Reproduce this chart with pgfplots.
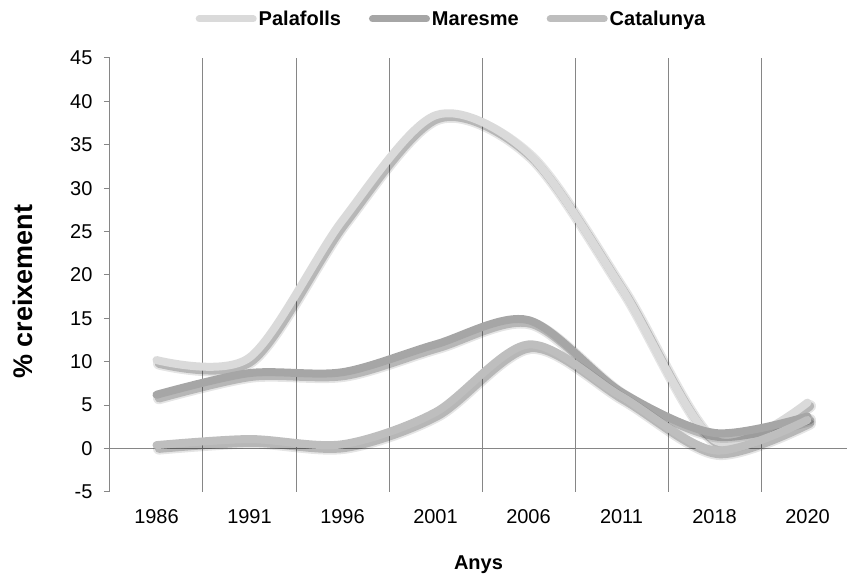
\documentclass[border=0pt]{standalone}
\usepackage{pgfplots}
\usepackage{pgfplotstable}
\pgfplotsset{compat=1.18}
\usepackage{fontspec}
\setmainfont{Liberation Sans}
\definecolor{cPal}{HTML}{DADADA}
\definecolor{cMar}{HTML}{A6A6A6}
\definecolor{cCat}{HTML}{BEBEBE}
\definecolor{cAx}{HTML}{868686}

\pgfplotstableread{
x pal mar cat
0 10.2 6.2 0.4
1 10.5 8.7 1.1
2 26.3 8.8 0.5
3 38.4 12.0 4.2
4 34.0 14.8 12.0
5 18.5 6.5 6.0
6 1.0 1.8 -0.2
7 5.3 3.7 3.3
}\datatable

\pgfplotsset{
  shadowA/.style={forget plot, draw=black, opacity=0.10, line width=12pt, line cap=round, smooth, xshift=2.5pt, yshift=-3.5pt},
  shadowB/.style={forget plot, draw=black, opacity=0.20, line width=8.5pt, line cap=round, smooth, xshift=2.5pt, yshift=-3.5pt},
}

\begin{document}
\begin{tikzpicture}
\begin{axis}[
  scale only axis, width=737pt, height=434pt,
  xmin=-0.5, xmax=7.4247, ymin=-5, ymax=45,
  axis lines*=left, separate axis lines,
  x axis line style={draw=none},
  y axis line style={cAx, line width=1pt},
  xtick={0,...,7},
  xticklabels={1986,1991,1996,2001,2006,2011,2018,2020},
  xtick style={draw=none},
  ytick={-5,0,...,45},
  ytick style={cAx, line width=1pt},
  tick align=outside, major tick length=6pt,
  extra x ticks={0.5,1.5,...,6.5},
  extra x tick labels={},
  extra x tick style={xmajorgrids=true, major grid style={cAx, line width=1pt}, tick style={draw=none}},
  extra y ticks={0},
  extra y tick labels={},
  extra y tick style={ymajorgrids=true, major grid style={cAx, line width=1pt}},
  /pgf/number format/assume math mode=true,
  ticklabel style={font=\fontsize{20}{24}\selectfont},
  xticklabel style={yshift=-8pt},
  yticklabel style={xshift=-8pt},
  xlabel={\bfseries Anys},
  xlabel style={at={(axis description cs:0.5,-0.168)}, anchor=center, font=\fontsize{20}{24}\selectfont},
  ylabel={\bfseries \% creixement},
  ylabel style={at={(axis description cs:-0.118,0.461)}, anchor=center, font=\fontsize{27}{30}\selectfont},
  legend columns=3,
  legend style={at={(axis description cs:0.4634,1.09)}, anchor=center, draw=none, fill=none,
    font=\bfseries\fontsize{20}{24}\selectfont,
    /tikz/every even column/.append style={column sep=26pt}},
  legend image code/.code={\draw[#1, line width=7pt, line cap=round] (0pt,0pt) -- (54pt,0pt);},
]
\addplot[shadowA] table[x=x, y=pal]{\datatable};
\addplot[shadowB] table[x=x, y=pal]{\datatable};
\addplot[cPal, line width=8pt, line cap=round, smooth] table[x=x, y=pal]{\datatable};
\addlegendentry{Palafolls}
\addplot[shadowA] table[x=x, y=mar]{\datatable};
\addplot[shadowB] table[x=x, y=mar]{\datatable};
\addplot[cMar, line width=8pt, line cap=round, smooth] table[x=x, y=mar]{\datatable};
\addlegendentry{Maresme}
\addplot[shadowA] table[x=x, y=cat]{\datatable};
\addplot[shadowB] table[x=x, y=cat]{\datatable};
\addplot[cCat, line width=8pt, line cap=round, smooth] table[x=x, y=cat]{\datatable};
\addlegendentry{Catalunya}
\end{axis}
\pgfresetboundingbox
\path (-110pt,-83pt) rectangle (737pt,492pt);
\end{tikzpicture}
\end{document}
